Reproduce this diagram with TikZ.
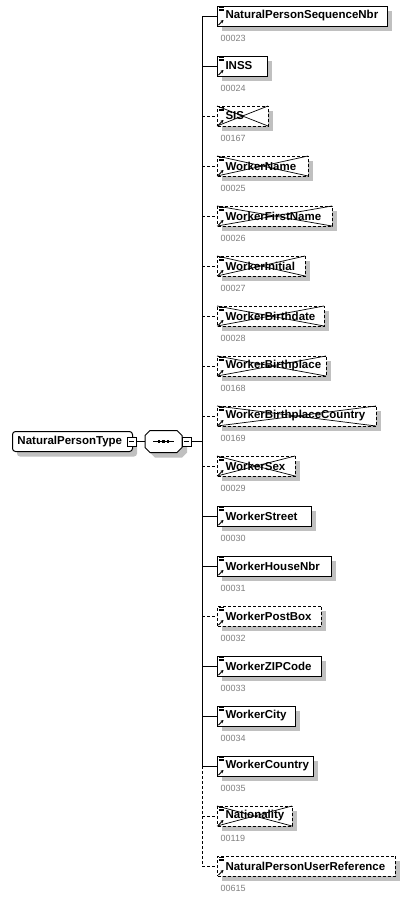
\documentclass[tikz,border=0pt]{standalone}
\usepackage{fontspec}
\setmainfont{Liberation Sans}
\usetikzlibrary{arrows.meta,calc}
\definecolor{shadowc}{RGB}{192,192,192}
\definecolor{numgray}{RGB}{128,128,128}
\tikzset{
  elbox/.style={draw, line width=1pt, minimum height=20pt, inner sep=0pt, anchor=west, align=left, font=\bfseries\fontsize{11.5}{13}\selectfont},
  solidel/.style={elbox},
  dashel/.style={elbox, dash pattern=on 3pt off 2pt},
  numlabel/.style={anchor=west, inner sep=0pt, text=numgray, font=\fontsize{9}{10}\selectfont},
  solidconn/.style={line width=1pt},
  dashconn/.style={line width=1pt, dash pattern=on 3pt off 2pt},
  minusbox/.style={draw, fill=white, line width=0.8pt, minimum size=9pt, inner sep=0pt},
  shadowfill/.style={fill=shadowc, draw=none},
  iconline/.style={line width=0.7pt},
  crossline/.style={line width=0.7pt},
}
\newcommand\xsdelem[7]{%
  \pgfmathsetmacro\elyc{16+50*#2}%
  \pgfmathsetmacro\elwidth{#3-217}%
  \fill[shadowfill] (222,\elyc-5) rectangle (#3+5,\elyc+15);
  \fill[white] (217,\elyc-10) rectangle (#3,\elyc+10);
  \ifnum#5=1 \draw[crossline] (217,\elyc-10) -- (#3,\elyc+10) (217,\elyc+10) -- (#3,\elyc-10);\fi
  \node[#4el, text width=\elwidth pt] (#1) at (217,\elyc) {\hspace*{8pt}#6};
  \draw[iconline] (219,\elyc-8.5) -- (224,\elyc-8.5) (219,\elyc-7) -- (224,\elyc-7) (219,\elyc-5.5) -- (224,\elyc-5.5);
  \draw[line width=0.8pt, -{Stealth[length=3pt,width=3.2pt]}] (218.5,\elyc+9) -- (223.5,\elyc+4);
  \coordinate (v#2) at (202,\elyc);
  \draw[#4conn] (v#2) -- (#1.west);
  \node[numlabel] (n#1) at (220.5,\elyc+22) {#7};
}
\begin{document}
\begin{tikzpicture}[x=1pt, y=-1pt]
\useasboundingbox (0,0) rectangle (413,898);
\fill[white] (0,0) rectangle (413,898);

\xsdelem{npsn}{0}{387}{solid}{0}{NaturalPersonSequenceNbr}{00023}
\xsdelem{inss}{1}{267}{solid}{0}{INSS}{00024}
\xsdelem{sis}{2}{268}{dash}{1}{SIS}{00167}
\xsdelem{wname}{3}{308}{dash}{1}{WorkerName}{00025}
\xsdelem{wfirst}{4}{332}{dash}{1}{WorkerFirstName}{00026}
\xsdelem{winit}{5}{305}{dash}{1}{WorkerInitial}{00027}
\xsdelem{wbdate}{6}{324}{dash}{1}{WorkerBirthdate}{00028}
\xsdelem{wbplace}{7}{326}{dash}{1}{WorkerBirthplace}{00168}
\xsdelem{wbcountry}{8}{376}{dash}{1}{WorkerBirthplaceCountry}{00169}
\xsdelem{wsex}{9}{295}{dash}{1}{WorkerSex}{00029}
\xsdelem{wstreet}{10}{311}{solid}{0}{WorkerStreet}{00030}
\xsdelem{whouse}{11}{331}{solid}{0}{WorkerHouseNbr}{00031}
\xsdelem{wpostbox}{12}{321}{dash}{0}{WorkerPostBox}{00032}
\xsdelem{wzip}{13}{321}{solid}{0}{WorkerZIPCode}{00033}
\xsdelem{wcity}{14}{295}{solid}{0}{WorkerCity}{00034}
\xsdelem{wcountry}{15}{313}{solid}{0}{WorkerCountry}{00035}
\xsdelem{nation}{16}{292}{dash}{1}{Nationality}{00119}
\xsdelem{npuref}{17}{395}{dash}{0}{NaturalPersonUserReference}{00615}

% vertical spine
\draw[solidconn] (v0) -- (v15);
\draw[dashconn] (v15) -- (v17);
\coordinate (vm) at (202,441.5);

% parent type
\fill[shadowfill, rounded corners=3pt] (17,436.5) rectangle (137,456.5);
\node[elbox, fill=white, rounded corners=3pt, minimum width=120pt, text width=120pt] (npt) at (12,441.5) {\hspace*{5pt}NaturalPersonType};
\node[minusbox] (m1) at (131.5,441.5) {};
\draw[line width=0.8pt] ($(m1.center)+(-2.5,0)$) -- ($(m1.center)+(2.5,0)$);

% sequence compositor
\fill[shadowfill] (155,435.5) -- (182,435.5) -- (187,440.5) -- (187,452.5) -- (182,457.5) -- (155,457.5) -- (150,452.5) -- (150,440.5) -- cycle;
\filldraw[fill=white, line width=1pt] (150,430.5) -- (177,430.5) -- (182,435.5) -- (182,447.5) -- (177,452.5) -- (150,452.5) -- (145,447.5) -- (145,435.5) -- cycle;
\node[inner sep=0pt, minimum width=37pt, minimum height=22pt] (seq) at (163.5,441.5) {};
\draw[line width=1pt] (153,441.5) -- (174,441.5);
\fill (157.7,440.2) rectangle +(2.6,2.6);
\fill (162.2,440.2) rectangle +(2.6,2.6);
\fill (166.7,440.2) rectangle +(2.6,2.6);
\node[minusbox] (m2) at (186.5,441.5) {};
\draw[line width=0.8pt] ($(m2.center)+(-2.5,0)$) -- ($(m2.center)+(2.5,0)$);

\draw[solidconn] (m1.east) -- (seq.west);
\draw[solidconn] (m2.east) -- (vm);
\end{tikzpicture}
\end{document}
